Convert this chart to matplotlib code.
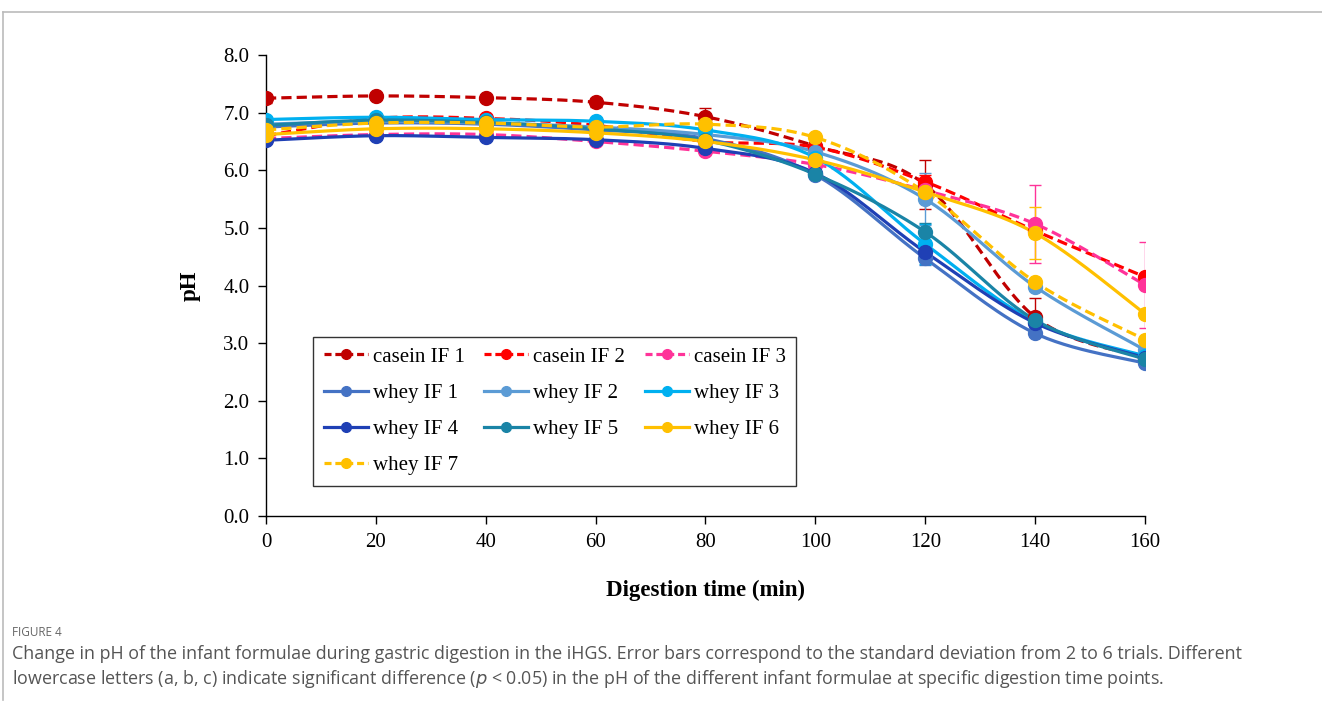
import numpy as np
import matplotlib
matplotlib.use("Agg")
import matplotlib.pyplot as plt
from matplotlib.lines import Line2D

times = [0, 20, 40, 60, 80, 100, 120, 140, 160]

series_names = ["casein IF 1", "casein IF 2", "casein IF 3",
                "whey IF 1", "whey IF 2", "whey IF 3",
                "whey IF 4", "whey IF 5", "whey IF 6", "whey IF 7"]

casein1 = [7.25, 7.29, 7.26, 7.18, 6.93, 6.42, 5.75, 3.45, 2.75]
casein2 = [6.60, 6.90, 6.90, 6.78, 6.50, 6.40, 5.80, 4.95, 4.15]
casein3 = [6.55, 6.62, 6.62, 6.50, 6.33, 6.10, 5.65, 5.07, 4.01]
whey1 = [6.75, 6.82, 6.80, 6.70, 6.55, 5.92, 4.47, 3.17, 2.65]
whey2 = [6.80, 6.85, 6.82, 6.75, 6.62, 6.32, 5.50, 3.98, 2.88]
whey3 = [6.88, 6.92, 6.88, 6.85, 6.70, 6.22, 4.72, 3.37, 2.78]
whey4 = [6.52, 6.60, 6.57, 6.53, 6.38, 5.95, 4.58, 3.35, 2.75]
whey5 = [6.78, 6.87, 6.83, 6.72, 6.52, 5.93, 4.93, 3.40, 2.72]
whey6 = [6.62, 6.72, 6.72, 6.65, 6.50, 6.18, 5.62, 4.91, 3.51]
whey7 = [6.70, 6.82, 6.82, 6.75, 6.80, 6.57, 5.62, 4.06, 3.06]

casein1_err = [0.08, 0.03, 0.03, 0.08, 0.15, 0.05, 0.42, 0.33, 0.05]
casein2_err = [0.05, 0.03, 0.03, 0.05, 0.05, 0.05, 0.12, 0.05, 0.05]
casein3_err = [0.03, 0.03, 0.03, 0.03, 0.03, 0.05, 0.10, 0.68, 0.75]
whey1_err = [0.03, 0.03, 0.03, 0.03, 0.03, 0.03, 0.12, 0.05, 0.03]
whey2_err = [0.03, 0.03, 0.03, 0.03, 0.03, 0.03, 0.45, 0.08, 0.03]
whey3_err = [0.03, 0.03, 0.03, 0.03, 0.03, 0.03, 0.35, 0.10, 0.03]
whey4_err = [0.03, 0.03, 0.03, 0.03, 0.03, 0.03, 0.10, 0.05, 0.03]
whey5_err = [0.03, 0.03, 0.03, 0.03, 0.03, 0.03, 0.15, 0.05, 0.03]
whey6_err = [0.03, 0.03, 0.03, 0.03, 0.03, 0.03, 0.10, 0.45, 0.03]
whey7_err = [0.03, 0.03, 0.03, 0.03, 0.03, 0.03, 0.08, 0.05, 0.03]

values = [casein1, casein2, casein3, whey1, whey2, whey3, whey4, whey5, whey6, whey7]
errors = [casein1_err, casein2_err, casein3_err, whey1_err, whey2_err, whey3_err,
          whey4_err, whey5_err, whey6_err, whey7_err]

colors = ["#C00000", "#FF0000", "#FF3399",
          "#4472C4", "#5B9BD5", "#00B0F0",
          "#1F40B5", "#1A84A6", "#FFC000", "#FFC000"]
dashed = [True, True, True, False, False, False, False, False, False, True]

x_ticks = [0, 20, 40, 60, 80, 100, 120, 140, 160]
y_ticks = [0.0, 1.0, 2.0, 3.0, 4.0, 5.0, 6.0, 7.0, 8.0]


def smooth(xs, ys, n=30):
    xs = np.asarray(xs, float)
    ys = np.asarray(ys, float)
    px = np.concatenate([[xs[0]], xs, [xs[-1]]])
    py = np.concatenate([[ys[0]], ys, [ys[-1]]])
    outx, outy = [], []
    t = np.linspace(0, 1, n)
    for i in range(1, len(px) - 2):
        p0 = np.array([px[i], py[i]])
        p3 = np.array([px[i + 1], py[i + 1]])
        c1 = p0 + (np.array([px[i + 1], py[i + 1]]) - np.array([px[i - 1], py[i - 1]])) / 6
        c2 = p3 - (np.array([px[i + 2], py[i + 2]]) - np.array([px[i], py[i]])) / 6
        bx = (1 - t) ** 3 * p0[0] + 3 * (1 - t) ** 2 * t * c1[0] + 3 * (1 - t) * t ** 2 * c2[0] + t ** 3 * p3[0]
        by = (1 - t) ** 3 * p0[1] + 3 * (1 - t) ** 2 * t * c1[1] + 3 * (1 - t) * t ** 2 * c2[1] + t ** 3 * p3[1]
        outx.extend(bx)
        outy.extend(by)
    return np.array(outx), np.array(outy)


plt.rcParams["font.family"] = ["Liberation Serif", "DejaVu Serif"]

fig = plt.figure(figsize=(13.22, 7.09), dpi=100)
ax = fig.add_axes([0.2012, 0.2722, 0.6649, 0.6502])

dash_style = (0, (3.2, 1.6))
handles = []
for name, ys, err, c, d in zip(series_names, values, errors, colors, dashed):
    ls = dash_style if d else "-"
    sx, sy = smooth(times, ys)
    ax.plot(sx, sy, color=c, lw=2.3, linestyle=ls, zorder=2)
    ax.errorbar(times, ys, yerr=err, fmt="none", ecolor=c, elinewidth=1.0,
                capsize=4, capthick=1.0, zorder=3)
    ax.plot(times, ys, linestyle="none", marker="o", markersize=10,
            color=c, zorder=4)
    handles.append(Line2D([0], [0], color=c, lw=2.3,
                          linestyle=(0, (2.2, 1.2)) if d else "-",
                          marker="o", markersize=7))

ax.set_xlim(0, 160)
ax.set_ylim(0, 8)
ax.set_xticks(x_ticks)
ax.set_xticklabels([str(v) for v in x_ticks])
ax.set_yticks(y_ticks)
ax.set_yticklabels([f"{v:.1f}" for v in y_ticks])
for s in ["top", "right"]:
    ax.spines[s].set_visible(False)
for s in ["left", "bottom"]:
    ax.spines[s].set_linewidth(1.0)
ax.tick_params(axis="both", direction="out", length=6, width=1.0,
               labelsize=15, pad=6)
ax.set_xlabel("Digestion time (min)", fontsize=16.5, fontweight="bold", labelpad=20)
ax.set_ylabel("pH", fontsize=16.5, fontweight="bold", labelpad=16)

# row-wise legend order (matplotlib fills column by column)
order = [0, 3, 6, 9, 1, 4, 7, 2, 5, 8]
leg = ax.legend([handles[i] for i in order], [series_names[i] for i in order],
                ncol=3, loc="upper left",
                bbox_to_anchor=(0.054, 0.389), fontsize=15, frameon=True,
                fancybox=False, edgecolor="black", handlelength=2.1,
                handletextpad=0.25, columnspacing=0.95, labelspacing=0.8,
                borderpad=0.5, borderaxespad=0)
leg.get_frame().set_linewidth(1.0)

# outer frame lines
fig.add_artist(Line2D([3 / 1322, 1.0], [1 - 12 / 709, 1 - 12 / 709],
                      color="#bbbbbb", lw=1.2, transform=fig.transFigure))
fig.add_artist(Line2D([3 / 1322, 3 / 1322], [1 - 12 / 709, 1 - 700 / 709],
                      color="#bbbbbb", lw=1.2, transform=fig.transFigure))

cap_font = ["Open Sans", "DejaVu Sans"]
fig.text(12 / 1322, 1 - 632 / 709, "FIGURE 4", fontsize=8.5, color="#666666",
         family=cap_font, va="center", ha="left")
fig.text(12 / 1322, 1 - 654 / 709,
         "Change in pH of the infant formulae during gastric digestion in the iHGS. Error bars correspond to the standard deviation from 2 to 6 trials. Different",
         fontsize=12.9, color="#555555", family=cap_font, va="center", ha="left")
fig.text(12 / 1322, 1 - 679 / 709,
         "lowercase letters (a, b, c) indicate significant difference ($\\it{p}$ < 0.05) in the pH of the different infant formulae at specific digestion time points.",
         fontsize=12.9, color="#555555", family=cap_font, va="center", ha="left")

fig.savefig("out.png", dpi=100)
